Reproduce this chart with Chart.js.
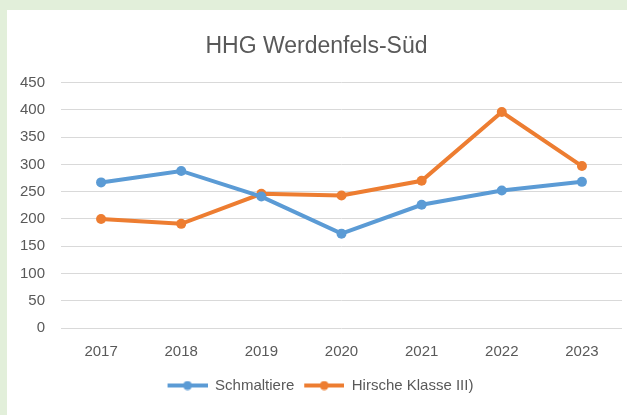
<!DOCTYPE html>
<html>
<head>
<meta charset="utf-8">
<script src="https://cdn.jsdelivr.net/npm/chart.js@4/dist/chart.umd.min.js"></script>
<style>
  html, body { margin: 0; padding: 0; }
  body { width: 627px; height: 415px; background: #e2efda; position: relative; overflow: hidden; }
  #box { position: absolute; left: 7px; top: 10px; width: 620px; height: 405px; background: #fff; }
</style>
</head>
<body>
<div id="box"><canvas id="meuGrafico" width="620" height="405"></canvas></div>
<script>
// Daten
const jahre = ['2017', '2018', '2019', '2020', '2021', '2022', '2023'];
const schmaltiere = [267, 288, 241, 173, 226, 252, 268];
const hirscheKlasse3 = [200, 191, 246, 243, 270, 396, 297];
const yTicks = [0, 50, 100, 150, 200, 250, 300, 350, 400, 450];

const blau = '#5b9bd5';
const orange = '#ed7d31';
const grau = '#595959';

// kleines Legenden-Symbol: Linie mit Punkt in der Mitte (links etwas Luft als Abstand)
function legendeSymbol(farbe) {
  const c = document.createElement('canvas');
  c.width = 48;
  c.height = 10;
  const g = c.getContext('2d');
  g.strokeStyle = farbe;
  g.lineWidth = 4;
  g.beginPath();
  g.moveTo(8, 5);
  g.lineTo(48, 5);
  g.stroke();
  g.fillStyle = farbe;
  g.beginPath();
  g.arc(28, 5, 4.5, 0, Math.PI * 2);
  g.fill();
  return c;
}

const ctx = document.getElementById('meuGrafico').getContext('2d');

const meuGrafico = new Chart(ctx, {
  type: 'line',
  data: {
    labels: jahre,
    datasets: [{
      label: 'Schmaltiere',
      data: schmaltiere,
      borderColor: blau,
      backgroundColor: blau,
      borderWidth: 4,
      pointRadius: 5,
      pointBorderWidth: 0,
      pointStyle: 'circle',
      tension: 0
    }, {
      label: 'Hirsche Klasse III)',
      data: hirscheKlasse3,
      borderColor: orange,
      backgroundColor: orange,
      borderWidth: 4,
      pointRadius: 5,
      pointBorderWidth: 0,
      pointStyle: 'circle',
      tension: 0
    }]
  },
  options: {
    responsive: false,
    animation: false,
    layout: { padding: { top: 0, right: 1, bottom: 12, left: 0 } },
    plugins: {
      title: {
        display: true,
        text: 'HHG Werdenfels-Süd',
        color: grau,
        font: { family: 'Liberation Sans', size: 23, weight: 'normal' },
        padding: { top: 23, bottom: 22 }
      },
      legend: {
        position: 'bottom',
        labels: {
          color: grau,
          font: { family: 'Liberation Sans', size: 15 },
          usePointStyle: true,
          pointStyleWidth: 48,
          padding: 2,
          generateLabels: (chart) => chart.data.datasets.map((ds, i) => ({
            text: ds.label,
            fontColor: grau,
            pointStyle: legendeSymbol(ds.borderColor),
            datasetIndex: i,
            hidden: false,
            lineWidth: 0
          }))
        }
      },
      tooltip: { enabled: false }
    },
    scales: {
      x: {
        offset: true,
        grid: { display: false, drawTicks: false },
        border: { display: false },
        ticks: {
          color: grau,
          font: { family: 'Liberation Sans', size: 15 },
          padding: 15,
          maxRotation: 0
        }
      },
      y: {
        min: 0,
        max: 450,
        afterBuildTicks: (axis) => { axis.ticks = yTicks.map((v) => ({ value: v })); },
        afterFit: (axis) => { axis.width = 54; },
        grid: { color: '#d9d9d9', lineWidth: 1, drawTicks: false },
        border: { display: false },
        ticks: {
          color: grau,
          font: { family: 'Liberation Sans', size: 15 },
          padding: 16
        }
      }
    }
  }
});
</script>
</body>
</html>
